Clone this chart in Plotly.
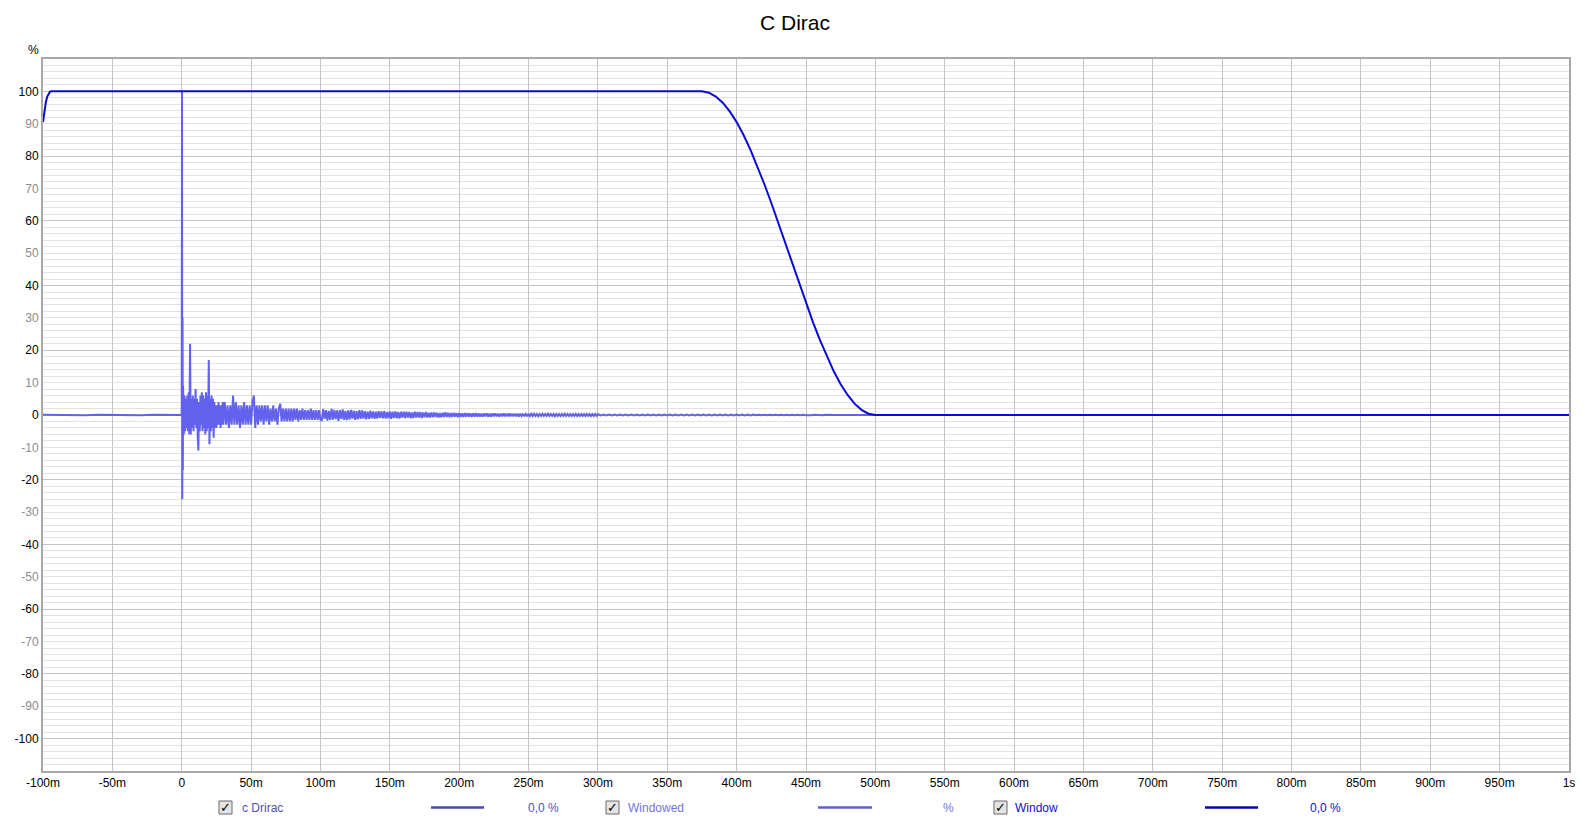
import numpy as np
import plotly.graph_objects as go

# ---------------- data ----------------
title_text = "C Dirac"

# x ticks (seconds) and labels
x_tick_vals = [-0.1, -0.05, 0, 0.05, 0.1, 0.15, 0.2, 0.25, 0.3, 0.35, 0.4, 0.45, 0.5,
               0.55, 0.6, 0.65, 0.7, 0.75, 0.8, 0.85, 0.9, 0.95, 1.0]
x_tick_text = ["-100m", "-50m", "0", "50m", "100m", "150m", "200m", "250m", "300m", "350m",
               "400m", "450m", "500m", "550m", "600m", "650m", "700m", "750m", "800m",
               "850m", "900m", "950m", "1s"]
y_tick_vals = list(range(-100, 101, 10))

# Window curve (%): times (s) and values
window_t = [-0.1, -0.099, -0.098, -0.097, -0.096, -0.095, -0.094,
            0.375, 0.380, 0.385, 0.390, 0.395, 0.400, 0.405, 0.410, 0.415, 0.420,
            0.425, 0.430, 0.435, 0.440, 0.445, 0.450, 0.455, 0.460, 0.465, 0.470,
            0.475, 0.480, 0.485, 0.490, 0.495, 0.500, 1.0]
window_v = [90.5, 94.0, 96.5, 98.3, 99.4, 99.9, 100.0,
            100.0, 99.6, 98.4, 96.5, 93.8, 90.5, 86.5, 81.9, 76.8, 71.3,
            65.5, 59.4, 53.1, 46.9, 40.6, 34.5, 28.7, 23.2, 18.1, 13.5,
            9.5, 6.2, 3.5, 1.6, 0.4, 0.0, 0.0]

# Windowed impulse response (%)
# pre-impulse noise and impulse (explicit times)
windowed_a_t = [-0.1, -0.09, -0.08, -0.07, -0.06, -0.05, -0.04, -0.03, -0.02, -0.01,
                -0.0004, 0.0, 0.0002, 0.0004, 0.0006, 0.0008, 0.001]
windowed_a_v = [0.05, -0.05, 0.05, -0.05, 0.05, -0.05, 0.05, -0.05, 0.05, -0.05,
                0.0, 0.5, 100.0, -26.0, 30.0, -17.0, 9.0]
# 1.5 ms .. 30 ms, every 0.5 ms
windowed_b_start, windowed_b_step = 0.0015, 0.0005
windowed_b_v = [-6, 6, -5, 5, -4, 6, -5, 7, -6, 22,
                -6, 5, -4, 6, -5, 5, -3, 8, -4, 5,
                -6, -11, 4, -5, 6, -3, 7, -5, 6, -4,
                5, -6, 7, -5, 6, -4, 17, -9, 5, -5,
                6, -4, 5, -7, 4, -4, 3, -4, 3, -3,
                4, -3, 3, -4, 3, -3, 4, -3]
# 31 ms .. 100 ms, every 1 ms
windowed_c_start, windowed_c_step = 0.031, 0.001
windowed_c_v = [4, -3, 3, -4, 3, -3, 6, -3, 4, -3,
                3, -4, 3, -3, 4, -3, 3, -3, 3, -3,
                4, 6, -4, 3, -3, 3, -2, 3, -3, 3,
                -2, 3, -3, 2, -2, 3, -2, 2, -3, 2,
                3.5, -2, 2, -2, 2, -2, 2, -2, 2, -2,
                2, -1.5, 2, -2, 1.5, -1.5, 2, -1.5, 1.5, -1.5,
                1.5, -1.5, 2, -1.5, 1.5, -1.5, 1.5, -1.5, 1.5, -1.5]
# 101 ms .. 300 ms, every 1 ms
windowed_d_start, windowed_d_step = 0.101, 0.001
windowed_d_v = [-1.6, 1.8, -1.2, 1.5, -1.7, 1.3, -1.5, 1.9, -1.4, 1.6,
                -1.3, 1.4, -1.8, 1.5, -1.2, 1.7, -1.5, 1.3, -1.6, 1.4,
                -1.4, 1.6, -1.1, 1.3, -1.5, 1.2, -1.3, 1.5, -1.2, 1.4,
                -1.1, 1.2, -1.3, 1.0, -1.2, 1.3, -1.0, 1.1, -1.2, 1.0,
                -1.1, 1.2, -0.9, 1.1, -1.0, 1.2, -1.1, 0.9, -1.0, 1.1,
                -1.2, 1.0, -0.9, 1.1, -1.0, 0.9, -1.1, 1.0, -0.8, 1.0,
                -0.9, 1.0, -0.8, 0.9, -1.0, 0.8, -0.9, 1.0, -0.8, 0.9,
                -0.8, 0.9, -0.9, 0.8, -0.7, 0.9, -0.8, 0.7, -0.8, 0.8,
                -0.7, 0.8, -0.6, 0.7, -0.8, 0.6, -0.7, 0.7, -0.6, 0.8,
                -0.6, 0.7, -0.7, 0.6, -0.6, 0.7, -0.5, 0.6, -0.7, 0.6,
                -0.6, 0.5, -0.6, 0.6, -0.5, 0.6, -0.5, 0.5, -0.6, 0.5,
                -0.5, 0.6, -0.5, 0.5, -0.5, 0.4, -0.5, 0.5, -0.4, 0.5,
                -0.5, 0.4, -0.5, 0.5, -0.4, 0.5, -0.4, 0.4, -0.5, 0.4,
                -0.4, 0.5, -0.4, 0.4, -0.4, 0.5, -0.4, 0.4, -0.4, 0.4,
                -0.4, 0.4, -0.5, 0.4, -0.3, 0.4, -0.4, 0.3, -0.4, 0.4,
                -0.3, 0.4, -0.3, 0.4, -0.3, 0.3, -0.4, 0.3, -0.3, 0.4,
                -0.3, 0.3, -0.3, 0.4, -0.3, 0.3, -0.3, 0.3, -0.4, 0.3,
                -0.3, 0.3, -0.3, 0.3, -0.3, 0.4, -0.3, 0.3, -0.3, 0.3,
                -0.3, 0.3, -0.3, 0.3, -0.3, 0.3, -0.3, 0.3, -0.3, 0.3,
                -0.3, 0.3, -0.25, 0.3, -0.3, 0.25, -0.3, 0.3, -0.25, 0.3]
# 302 ms .. 500 ms, every 2 ms
windowed_e_start, windowed_e_step = 0.302, 0.002
windowed_e_v = [-0.15, 0.15, -0.12, 0.15, -0.15, 0.15, -0.15, 0.12, -0.15, 0.15,
                -0.15, 0.15, -0.15, 0.15, -0.12, 0.15, -0.15, 0.15, -0.15, 0.15,
                -0.15, 0.12, -0.15, 0.15, -0.15, 0.15, -0.12, 0.15, -0.15, 0.15,
                -0.15, 0.15, -0.15, 0.12, -0.15, 0.15, -0.15, 0.15, -0.14, 0.14,
                -0.14, 0.13, -0.13, 0.13, -0.13, 0.13, -0.13, 0.12, -0.12, 0.12,
                -0.12, 0.12, -0.11, 0.11, -0.11, 0.11, -0.1, 0.1, -0.1, 0.1,
                -0.09, 0.09, -0.09, 0.09, -0.08, 0.08, -0.08, 0.08, -0.07, 0.07,
                -0.07, 0.07, -0.06, 0.06, -0.06, 0.06, -0.05, 0.05, -0.05, 0.05,
                -0.04, 0.04, -0.04, 0.04, -0.03, 0.03, -0.03, 0.03, -0.02, 0.02,
                -0.02, 0.02, -0.01, 0.01, -0.01, 0.01, 0.0, 0.0, 0.0, 0.0]
windowed_f_t = [0.55, 1.0]
windowed_f_v = [0.0, 0.0]

# legend entries
legend_names = ["c Drirac", "Windowed", "Window"]
legend_values = ["0,0 %", "%", "0,0 %"]

# ---------------- styles ----------------
FONT = "Liberation Sans, Arial, sans-serif"
COL_WINDOWED = "#6262EE"
COL_WINDOW = "#0A0AD0"
COL_CDIRAC_TXT = "#5050B8"
COL_WINDOWED_TXT = "#7474E0"
COL_WINDOW_TXT = "#1010C8"
LEGEND_LINE_COLS = ["#4848B0", "#6060D0", "#0808A8"]
LEGEND_TXT_COLS = [COL_CDIRAC_TXT, COL_WINDOWED_TXT, COL_WINDOW_TXT]

W, H = 1590, 827
L, R, T, B = 43, 21, 59, 56
PW, PH = W - L - R, H - T - B


def seg_times(start, step, vals):
    return [start + step * i for i in range(len(vals))]


windowed_t = (windowed_a_t
              + seg_times(windowed_b_start, windowed_b_step, windowed_b_v)
              + seg_times(windowed_c_start, windowed_c_step, windowed_c_v)
              + seg_times(windowed_d_start, windowed_d_step, windowed_d_v)
              + seg_times(windowed_e_start, windowed_e_step, windowed_e_v)
              + windowed_f_t)
windowed_v = (windowed_a_v + windowed_b_v + windowed_c_v + windowed_d_v
              + windowed_e_v + windowed_f_v)

fig = go.Figure()
fig.add_trace(go.Scatter(x=windowed_t, y=windowed_v, mode="lines",
                         line=dict(color=COL_WINDOWED, width=2), name="Windowed",
                         showlegend=False))
fig.add_trace(go.Scatter(x=window_t, y=window_v, mode="lines",
                         line=dict(color=COL_WINDOW, width=2),
                         name="Window", showlegend=False))
# invisible trace carrying the darker 20-unit grid axis
fig.add_trace(go.Scatter(x=[-0.1], y=[0], yaxis="y2", mode="markers",
                         marker=dict(opacity=0), showlegend=False, hoverinfo="skip"))

y_tick_text = []
for v in y_tick_vals:
    if v % 20 == 0:
        y_tick_text.append(str(v))
    else:
        y_tick_text.append("<span style='color:#8c8c8c'>%d</span>" % v)

fig.update_layout(
    width=W, height=H,
    margin=dict(l=L, r=R, t=T, b=B),
    paper_bgcolor="white", plot_bgcolor="white",
    font=dict(family=FONT, size=12, color="black"),
    title=dict(text=title_text, x=0.5, xanchor="center", xref="container",
               y=1 - 22.5 / H, yref="container", yanchor="middle",
               font=dict(family=FONT, size=21, color="black")),
    xaxis=dict(range=[-0.1, 1.0], tickvals=x_tick_vals, ticktext=x_tick_text,
               showgrid=True, gridcolor="#c4c4c4", gridwidth=1, zeroline=False,
               showline=True, mirror=True, linecolor="#a8a8a8", linewidth=2,
               ticks="", tickfont=dict(size=12, family=FONT, color="black")),
    yaxis=dict(range=[-110, 110], tickvals=y_tick_vals, ticktext=y_tick_text,
               showgrid=True, gridcolor="#e2e2e2", gridwidth=1, zeroline=False,
               minor=dict(dtick=2, tick0=0, showgrid=True, gridcolor="#e2e2e2", gridwidth=1),
               showline=True, mirror=True, linecolor="#a8a8a8", linewidth=2,
               ticks="", tickfont=dict(size=12, family=FONT, color="black")),
    yaxis2=dict(range=[-110, 110], overlaying="y", side="left",
                tickvals=list(range(-100, 101, 20)), showticklabels=False,
                showgrid=True, gridcolor="#c4c4c4", gridwidth=1, zeroline=False,
                showline=False, ticks=""),
)


def px_x(x):
    return (x - L) / PW


def px_y(y):
    return (H - B - y) / PH


anns = []
shapes = []
# "%" unit label
anns.append(dict(text="%", x=px_x(33), y=px_y(50), xref="paper", yref="paper",
                 showarrow=False, xanchor="center", yanchor="middle",
                 font=dict(size=12, family=FONT, color="black")))

# bottom legend
box_x = [219, 606, 994]
name_x = [240, 626, 1013]
line_x = [(431, 484), (818, 872), (1205, 1258)]
val_right = [561, 956, 1343]
ly = 807.5
for i in range(3):
    shapes.append(dict(type="rect", xref="paper", yref="paper",
                       x0=px_x(box_x[i]), x1=px_x(box_x[i] + 13),
                       y0=px_y(ly - 6.5), y1=px_y(ly + 6.5),
                       line=dict(color="#6a6a6a", width=1), fillcolor="#e4e4e4"))
    anns.append(dict(text="<b>✓</b>", x=px_x(box_x[i] + 6.5), y=px_y(ly),
                     xref="paper", yref="paper", showarrow=False,
                     xanchor="center", yanchor="middle",
                     font=dict(size=13, family="DejaVu Sans", color="black")))
    anns.append(dict(text=legend_names[i], x=px_x(name_x[i]), y=px_y(ly),
                     xref="paper", yref="paper", showarrow=False,
                     xanchor="left", yanchor="middle",
                     font=dict(size=12, family=FONT, color=LEGEND_TXT_COLS[i])))
    shapes.append(dict(type="line", xref="paper", yref="paper",
                       x0=px_x(line_x[i][0]), x1=px_x(line_x[i][1]),
                       y0=px_y(ly), y1=px_y(ly),
                       line=dict(color=LEGEND_LINE_COLS[i], width=2.5)))
    anns.append(dict(text=legend_values[i], x=px_x(val_right[i]), y=px_y(ly),
                     xref="paper", yref="paper", showarrow=False,
                     xanchor="right", yanchor="middle",
                     font=dict(size=12, family=FONT, color=LEGEND_TXT_COLS[i])))

fig.update_layout(annotations=anns, shapes=shapes)
fig.write_html("out.html", config={"displayModeBar": False},
               post_script="document.body.style.margin='0';document.body.style.overflow='hidden';")
